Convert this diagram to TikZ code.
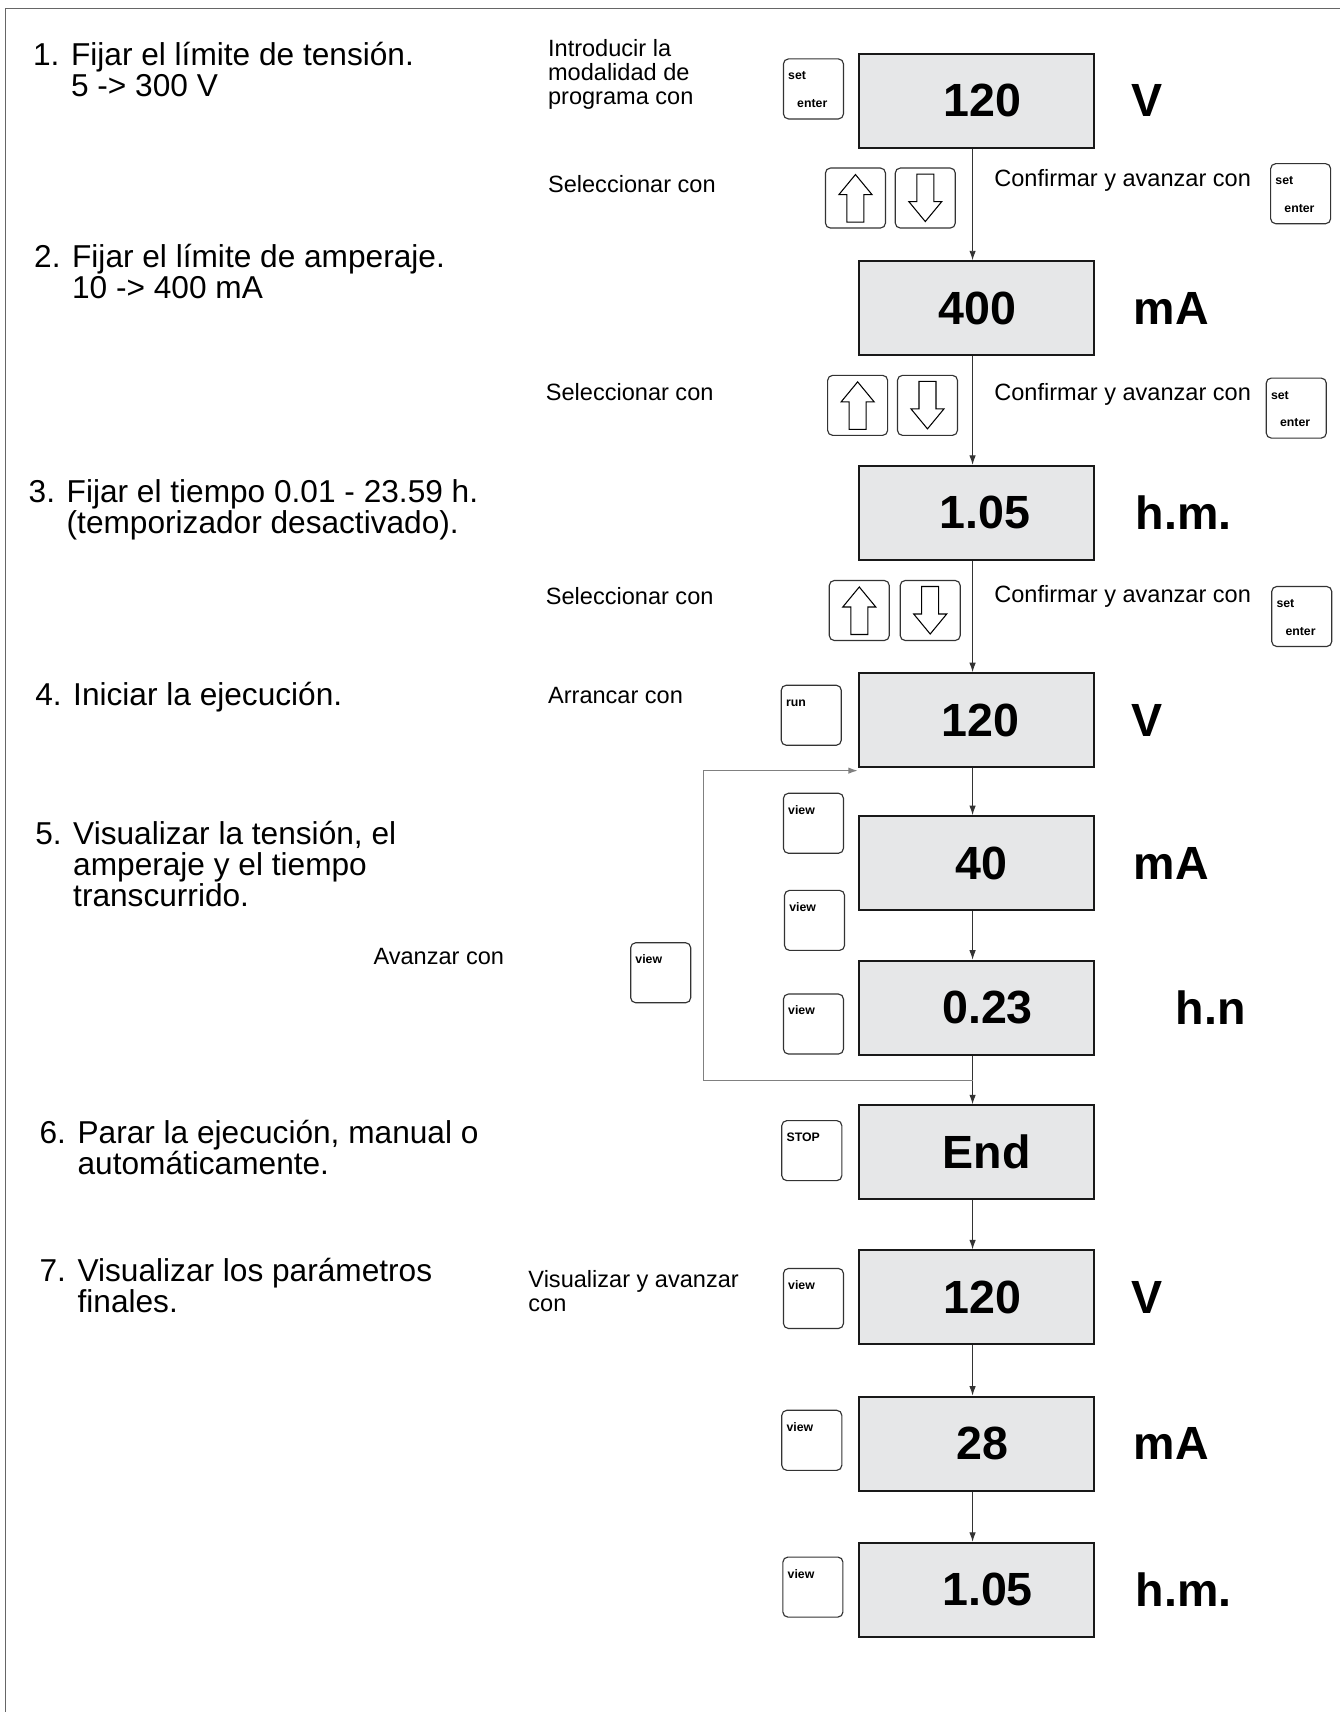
\documentclass[tikz,border=0pt]{standalone}
\usepackage{fontspec}
\setmainfont{Liberation Sans}
\usetikzlibrary{positioning,arrows.meta}
\definecolor{lcdgray}{HTML}{E6E7E8}
\definecolor{inkgray}{HTML}{333333}
\lineskiplimit=-100pt
\newcommand\stepno[1]{\makebox[1.2em][l]{#1}}
\newcommand\tp{\rule{0pt}{0.8em}}
\newcommand\arrowglyph{(0cm,0.47cm) -- (0.33cm,0.07cm) -- (0.17cm,0.07cm) -- (0.17cm,-0.48cm) -- (-0.17cm,-0.48cm) -- (-0.17cm,0.07cm) -- (-0.33cm,0.07cm) -- cycle}
\tikzset{
  display/.style={draw=black!90, line width=1.1pt, fill=lcdgray, minimum width=4.71cm, minimum height=1.88cm, inner sep=0pt},
  readout/.style={font=\fontsize{26.5}{30}\selectfont\bfseries, inner sep=0pt},
  unit/.style={font=\fontsize{26.5}{30}\selectfont\bfseries, inner sep=0pt},
  keybox/.style={draw=inkgray, line width=0.65pt, rounded corners=0.1cm, minimum width=1.2cm, minimum height=1.2cm, inner sep=0pt},
  keytext/.style={font=\fontsize{7}{8}\selectfont\bfseries, inner sep=0pt, anchor=base west},
  steptext/.style={font=\fontsize{18}{17.8}\selectfont, align=left, anchor=north west, inner sep=0pt},
  hinttext/.style={font=\fontsize{13.4}{13.6}\selectfont, align=left, anchor=north west, inner sep=0pt},
  flow/.style={draw=inkgray, line width=0.55pt, -{Latex[length=1.9mm,width=1.3mm]}},
  feedback/.style={draw=black!50, line width=0.8pt, -{Latex[length=1.9mm,width=1.3mm]}},
  glyph/.style={draw=black, line width=0.6pt}
}
\newcommand\setkey[2]{
  \node[keybox] (#1) at (#2) {};
  \node[keytext] (#1-set) at ([shift={(0.1cm,-0.43cm)}]#1.north west) {set};
  \node[keytext] (#1-enter) at ([shift={(0.28cm,0.24cm)}]#1.south west) {enter};}
\newcommand\labelkey[3]{
  \node[keybox] (#1) at (#2) {};
  \node[keytext] (#1-txt) at ([shift={(0.1cm,-0.43cm)}]#1.north west) {#3};}
\newcommand\arrowkey[3]{
  \node[keybox] (#1) at (#2) {};
  \draw[glyph, shift={(#1.center)}, yscale=#3] \arrowglyph;}
\newcommand\display[4]{
  \node[display] (#1) at (895,#2) {};
  \node[readout] (#1-val) at ([xshift=#4]#1.center) {#3};}

\begin{document}
\begin{tikzpicture}[x=0.021824cm, y=-0.021824cm]
  \useasboundingbox (0,0) rectangle (1228,1569);
  \fill[white] (0,0) rectangle (1228,1569);
  \draw[black!60, line width=0.8pt] (5,1569) -- (5,8) -- (1228,8);

  \node[steptext] (step1) at (30,36.6) {\tp\stepno{1.}Fijar el límite de tensión.\\\stepno{}5 -> 300 V};
  \node[steptext] (step2) at (31,221.2) {\tp\stepno{2.}Fijar el límite de amperaje.\\\stepno{}10 -> 400 mA};
  \node[steptext] (step3) at (26,437.2) {\tp\stepno{3.}Fijar el tiempo 0.01 - 23.59 h.\\\stepno{}(temporizador desactivado).};
  \node[steptext] (step4) at (32,623.2) {\tp\stepno{4.}Iniciar la ejecución.};
  \node[steptext] (step5) at (32,750.2) {\tp\stepno{5.}Visualizar la tensión, el\\\stepno{}amperaje y el tiempo\\\stepno{}transcurrido.};
  \node[steptext] (step6) at (36,1024.2) {\tp\stepno{6.}Parar la ejecución, manual o\\\stepno{}automáticamente.};
  \node[steptext] (step7) at (36,1150.7) {\tp\stepno{7.}Visualizar los parámetros\\\stepno{}finales.};

  \node[hinttext] (hint-enter) at (502,34.1) {\tp Introducir la\\modalidad de\\programa con};
  \node[hinttext] (hint-sel1) at (502,159.2) {\tp Seleccionar con};
  \node[hinttext] (hint-sel2) at (500,349.2) {\tp Seleccionar con};
  \node[hinttext] (hint-sel3) at (500,536.2) {\tp Seleccionar con};
  \node[hinttext] (hint-run) at (502,627.2) {\tp Arrancar con};
  \node[hinttext] (hint-next) at (342,866.2) {\tp Avanzar con};
  \node[hinttext] (hint-view) at (484,1162.2) {\tp Visualizar y avanzar\\con};
  \node[hinttext] (hint-conf1) at (911,153.2) {\tp Confirmar y avanzar con};
  \node[hinttext] (hint-conf2) at (911,349.2) {\tp Confirmar y avanzar con};
  \node[hinttext] (hint-conf3) at (911,534.2) {\tp Confirmar y avanzar con};

  \setkey{set1}{745.5,81.5}
  \arrowkey{up1}{784,181.5}{1}
  \arrowkey{down1}{848,181.5}{-1}
  \setkey{set2}{1192,177.5}
  \arrowkey{up2}{786,371.5}{1}
  \arrowkey{down2}{850,371.5}{-1}
  \setkey{set3}{1188,374}
  \arrowkey{up3}{787.5,559.5}{1}
  \arrowkey{down3}{852.5,559.5}{-1}
  \setkey{set4}{1193,565}
  \labelkey{run}{743.5,655.5}{run}
  \labelkey{view1}{745.5,754.5}{view}
  \labelkey{view2}{746.5,843.5}{view}
  \labelkey{view3}{605.5,891.5}{view}
  \labelkey{view4}{745.5,938.5}{view}
  \labelkey{stop}{744,1054.5}{STOP}
  \labelkey{view5}{745.5,1190}{view}
  \labelkey{view6}{744,1320}{view}
  \labelkey{view7}{745,1454.5}{view}

  \display{d1}{92.5}{120}{0.11cm}
  \display{d2}{282.5}{400}{0.02cm}
  \display{d3}{470}{1.05}{0.17cm}
  \display{d4}{660}{120}{0.07cm}
  \display{d5}{791}{40}{0.09cm}
  \display{d6}{923.5}{0.23}{0.22cm}
  \display{d7}{1056}{End}{0.2cm}
  \display{d8}{1189}{120}{0.11cm}
  \display{d9}{1323}{28}{0.11cm}
  \display{d10}{1457}{1.05}{0.22cm}

  \node[unit, right=0.72cm of d1] (d1-unit) {V};
  \node[unit, right=0.76cm of d2] (d2-unit) {mA};
  \node[unit, right=0.8cm of d3] (d3-unit) {h.m.};
  \node[unit, right=0.72cm of d4] (d4-unit) {V};
  \node[unit, right=0.76cm of d5] (d5-unit) {mA};
  \node[unit, right=1.6cm of d6] (d6-unit) {h.n};
  \node[unit, right=0.72cm of d8] (d8-unit) {V};
  \node[unit, right=0.76cm of d9] (d9-unit) {mA};
  \node[unit, right=0.8cm of d10] (d10-unit) {h.m.};

  \draw[flow] ([xshift=-0.08cm]d1.south) -- ([xshift=-0.08cm]d2.north);
  \draw[flow] ([xshift=-0.08cm]d2.south) -- ([xshift=-0.08cm]d3.north);
  \draw[flow] ([xshift=-0.08cm]d3.south) -- ([xshift=-0.08cm]d4.north);
  \draw[flow] ([xshift=-0.08cm]d4.south) -- ([xshift=-0.08cm]d5.north);
  \draw[flow] ([xshift=-0.08cm]d5.south) -- ([xshift=-0.08cm]d6.north);
  \draw[flow] ([xshift=-0.08cm]d6.south) -- ([xshift=-0.08cm]d7.north);
  \draw[flow] ([xshift=-0.08cm]d7.south) -- ([xshift=-0.08cm]d8.north);
  \draw[flow] ([xshift=-0.08cm]d8.south) -- ([xshift=-0.08cm]d9.north);
  \draw[flow] ([xshift=-0.08cm]d9.south) -- ([xshift=-0.08cm]d10.north);

  \coordinate (loop-start) at (891.3,990);
  \coordinate (loop-corner) at (645,990);
  \draw[feedback] (loop-start) -- (loop-corner) |- ([yshift=-0.05cm]d4.south west);
\end{tikzpicture}
\end{document}
